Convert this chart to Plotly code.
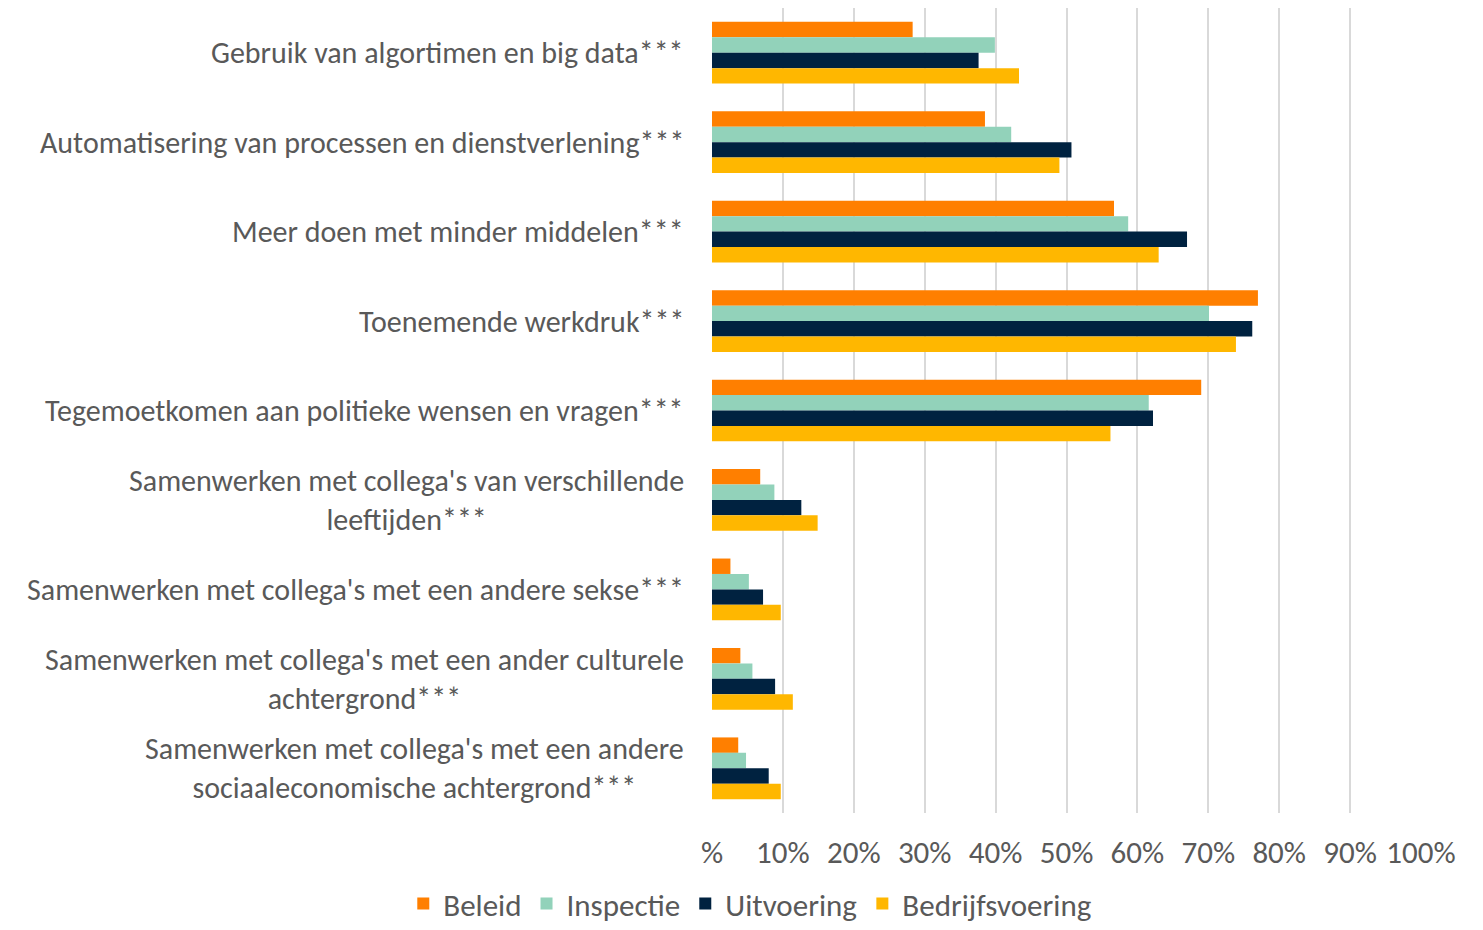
import plotly.graph_objects as go

categories = [
    "Gebruik van algortimen en big data***",
    "Automatisering van processen en dienstverlening***",
    "Meer doen met minder middelen***",
    "Toenemende werkdruk***",
    "Tegemoetkomen aan politieke wensen en vragen***",
    "Samenwerken met collega's van verschillende<br>leeftijden***",
    "Samenwerken met collega's met een andere sekse***",
    "Samenwerken met collega's met een ander culturele<br>achtergrond***",
    "Samenwerken met collega's met een andere<br>sociaaleconomische achtergrond***",
]

beleid = [28.3, 38.5, 56.7, 77.0, 69.0, 6.8, 2.6, 4.0, 3.7]
inspectie = [39.9, 42.2, 58.7, 70.1, 61.6, 8.8, 5.2, 5.7, 4.8]
uitvoering = [37.6, 50.7, 67.0, 76.2, 62.2, 12.6, 7.2, 8.9, 8.0]
bedrijfsvoering = [43.3, 49.0, 63.0, 73.9, 56.2, 14.9, 9.7, 11.4, 9.7]

tick_vals = [0, 10, 20, 30, 40, 50, 60, 70, 80, 90, 100]
tick_text = ["%", "10%", "20%", "30%", "40%", "50%", "60%", "70%", "80%", "90%", "100%"]

FONT = "Carlito, Lato, sans-serif"
GREY = "#595959"
SIZE = 31

series = [
    ("Beleid", beleid, "#FF7F00"),
    ("Inspectie", inspectie, "#92D2BA"),
    ("Uitvoering", uitvoering, "#002240"),
    ("Bedrijfsvoering", bedrijfsvoering, "#FFB700"),
]

fig = go.Figure()
for name, vals, color in series:
    fig.add_trace(go.Bar(
        y=categories, x=vals, name=name, orientation="h",
        marker=dict(color=color, line=dict(width=0)),
    ))

# category labels as annotations so wrapped lines are centred like the original
for cat in categories:
    fig.add_annotation(
        x=0, xref="paper", y=cat, yref="y", text=cat, showarrow=False,
        xanchor="right", yanchor="middle", align="center", xshift=-26,
        font=dict(family=FONT, size=30, color=GREY),
    )

# page body adds 8px, margins are set with that in mind
fig.update_layout(
    width=1483, height=930,
    margin=dict(l=704, r=70, t=0, b=125, autoexpand=False),
    barmode="group", bargap=0.31, bargroupgap=0,
    plot_bgcolor="white", paper_bgcolor="white",
    font=dict(family=FONT, size=SIZE, color=GREY),
    xaxis=dict(range=[0, 100], tickvals=tick_vals, ticktext=tick_text,
               showgrid=True, gridcolor="#d9d9d9", gridwidth=2,
               zeroline=False, ticks="outside", ticklen=12, tickcolor="white",
               tickfont=dict(family=FONT, size=SIZE, color=GREY)),
    yaxis=dict(autorange="reversed", showticklabels=False, showgrid=False,
               zeroline=False),
    legend=dict(orientation="h", x=0.054, xanchor="center", y=-0.113,
                yanchor="middle", traceorder="normal",
                font=dict(family=FONT, size=SIZE, color=GREY),
                itemwidth=30),
)

fig.write_html("out.html")
